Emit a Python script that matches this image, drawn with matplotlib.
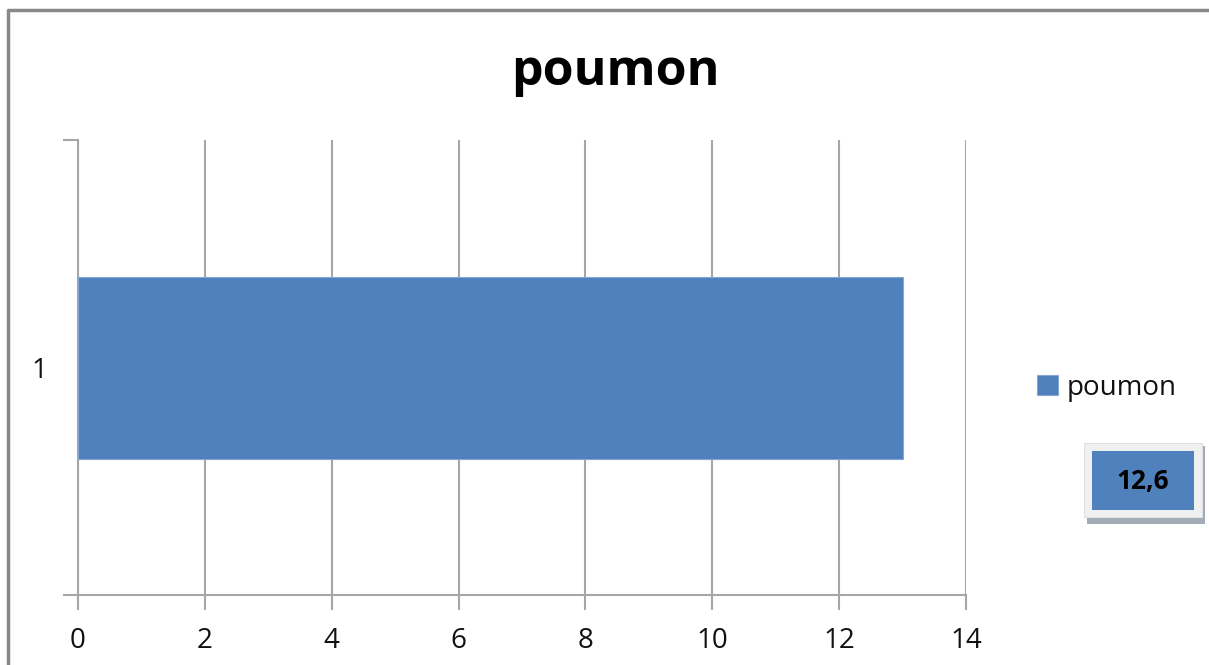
import matplotlib.pyplot as plt
from matplotlib.patches import Rectangle
from matplotlib.lines import Line2D

plt.rcParams['font.family'] = ['Open Sans', 'DejaVu Sans']

# Chart data
categories = ['1']
values = [13]
series_name = 'poumon'
note_text = '12,6'
x_ticks = [0, 2, 4, 6, 8, 10, 12, 14]

W, H = 1209, 665
fig = plt.figure(figsize=(W / 100, H / 100), dpi=100)


def fx(px):
    return px / W


def fy(py):
    return 1 - py / H


ax = fig.add_axes([fx(78), fy(595), fx(966) - fx(78), fy(140) - fy(595)])

bar_color = '#4F81BD'
grid_color = '#A6A6A6'
pos = list(range(1, len(categories) + 1))
ax.barh(pos, values, height=0.4, color=bar_color, edgecolor='#86A5D3',
        linewidth=0.8, label=series_name, zorder=3)

ax.set_xlim(0, 14)
ax.set_ylim(0.5, len(categories) + 0.5)
ax.set_xticks(x_ticks)
ax.set_xticklabels([str(t) for t in x_ticks])
ax.tick_params(axis='x', length=11, width=1.5, color=grid_color, pad=12,
               labelsize=20, labelcolor='#111111')

# category boundaries as ticks, category label in the middle
ax.set_yticks([p - 0.5 for p in pos] + [pos[-1] + 0.5])
ax.set_yticklabels([])
ax.set_yticks(pos, minor=True)
ax.set_yticklabels(categories, minor=True)
ax.tick_params(axis='y', which='major', length=11, width=1.5, color=grid_color)
ax.tick_params(axis='y', which='minor', length=0, pad=22, labelsize=20,
               labelcolor='#111111')

ax.grid(axis='x', color=grid_color, linewidth=1.5, zorder=0)
for side in ['top', 'right']:
    ax.spines[side].set_visible(False)
for side in ['left', 'bottom']:
    ax.spines[side].set_color(grid_color)
    ax.spines[side].set_linewidth(1.5)

fig.text(fx(615), fy(72), series_name, ha='center', va='center',
         fontsize=36, fontweight='bold', color='black')

leg = fig.legend(loc='center left', bbox_to_anchor=(fx(1026), fy(388)),
                 frameon=False, fontsize=20, handlelength=0.75,
                 handleheight=0.75, handletextpad=0.3, borderaxespad=0)
for t in leg.get_texts():
    t.set_color('#111111')

# value box with shadow
fig.patches.append(Rectangle((fx(1087), fy(524)), fx(1205) - fx(1087),
                             fy(446) - fy(524), transform=fig.transFigure,
                             facecolor='#A3ABB8', edgecolor='none', zorder=1))
fig.patches.append(Rectangle((fx(1084), fy(517)), fx(1202) - fx(1084),
                             fy(443) - fy(517), transform=fig.transFigure,
                             facecolor='#F0F0F0', edgecolor='#E0E0E0',
                             linewidth=0.8, zorder=2))
fig.patches.append(Rectangle((fx(1092), fy(510)), fx(1194) - fx(1092),
                             fy(451) - fy(510), transform=fig.transFigure,
                             facecolor=bar_color, edgecolor='none', zorder=3))
fig.text(fx(1143), fy(481), note_text, ha='center', va='center',
         fontsize=19, fontweight='bold', color='black', zorder=4)

# outer frame (top and left edges)
fig.lines.append(Line2D([fx(8), fx(8), 1], [0, fy(10), fy(10)],
                        transform=fig.transFigure, color='#888888',
                        linewidth=2.5))

fig.savefig('out.png', dpi=100)
